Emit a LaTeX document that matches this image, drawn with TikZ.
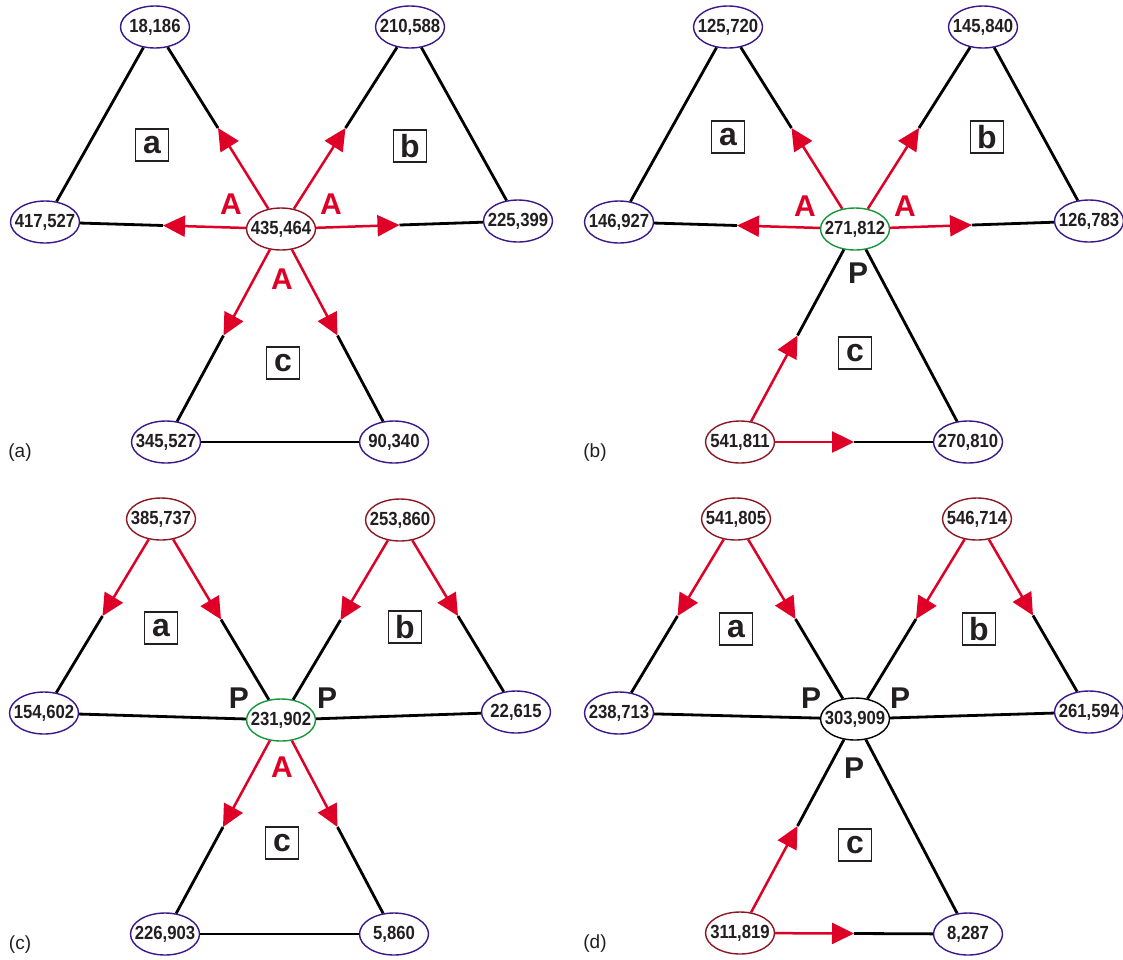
\documentclass[tikz,border=0pt]{standalone}
\usepackage{fontspec}
\setmainfont{Liberation Sans}
\newfontfamily\numfont[FakeStretch=0.88]{Liberation Sans}
\usetikzlibrary{shapes.geometric,arrows.meta,calc}
\definecolor{ndpurple}{RGB}{58,24,140}
\definecolor{srcred}{RGB}{140,24,36}
\definecolor{hubgreen}{RGB}{20,150,60}
\definecolor{arrred}{RGB}{222,0,38}
\definecolor{txt}{RGB}{35,31,32}
\newcommand\halfarr[2]{\draw[blk] ($(#1)!0.5!(#2)$) -- (#2); \draw[rd] (#1) -- ($(#1)!0.5!(#2)$);}
\tikzset{
  nd/.style={ellipse, draw=ndpurple, line width=1.4pt, fill=white, minimum width=69pt, minimum height=42pt, inner xsep=-8pt, inner ysep=0pt, text=txt, font=\numfont\bfseries\fontsize{19}{19}\selectfont},
  src/.style={nd, draw=srcred},
  hub/.style={nd, draw=hubgreen},
  hubk/.style={nd, draw=black},
  boxlbl/.style={draw=txt, line width=1.8pt, minimum width=33pt, minimum height=32pt, inner sep=0pt, text=txt, font=\bfseries\fontsize{32}{32}\selectfont},
  albl/.style={text=arrred, font=\bfseries\fontsize{30}{30}\selectfont, inner sep=0pt},
  plbl/.style={text=txt, font=\bfseries\fontsize{30}{30}\selectfont, inner sep=0pt},
  panlbl/.style={text=txt, font=\fontsize{19}{19}\selectfont, inner sep=0pt},
  blk/.style={line width=2.8pt, black},
  rd/.style={line width=2.5pt, arrred, -{Triangle[length=22pt,width=21pt]}}
}
\begin{document}
\begin{tikzpicture}[x=1pt,y=-1pt]
\useasboundingbox (0,0) rectangle (1123,959);
\fill[white] (0,0) rectangle (1123,959);
% ---------- panel (a)
\node[src] (aC) at (281,229) {435,464};
\node[nd] (aT1) at (155,27) {18,186};
\node[nd] (aT2) at (410,27) {210,588};
\node[nd] (aL) at (45,222) {417,527};
\node[nd] (aR) at (518,221) {225,399};
\node[nd] (aB1) at (166,442) {345,527};
\node[nd] (aB2) at (394,442) {90,340};
\draw[blk] (aT1) -- (aL);
\draw[blk] (aT2) -- (aR);
\draw[blk] (aB1) -- (aB2);
\halfarr{aC}{aT1}
\halfarr{aC}{aT2}
\halfarr{aC}{aL}
\halfarr{aC}{aR}
\halfarr{aC}{aB1}
\halfarr{aC}{aB2}
\node[boxlbl] (aba) at (152,145) {a};
\node[boxlbl] (abb) at (410,146) {b};
\node[boxlbl] (abc) at (283,363) {c};
\node[albl] (aA1) at (231,204) {A};
\node[albl] (aA2) at (331,204) {A};
\node[albl] (aA3) at (282,279) {A};
\node[panlbl] (alab) at (20,453) {(a)};
% ---------- panel (b)
\node[hub] (bC) at (855,229) {271,812};
\node[nd] (bT1) at (728,27) {125,720};
\node[nd] (bT2) at (983,27) {145,840};
\node[nd] (bL) at (619,222) {146,927};
\node[nd] (bR) at (1089,221) {126,783};
\node[src] (bB1) at (740,442) {541,811};
\node[nd] (bB2) at (968,442) {270,810};
\draw[blk] (bT1) -- (bL);
\draw[blk] (bT2) -- (bR);
\draw[blk] (bC) -- (bB2);
\halfarr{bC}{bT1}
\halfarr{bC}{bT2}
\halfarr{bC}{bL}
\halfarr{bC}{bR}
\halfarr{bB1}{bC}
\halfarr{bB1}{bB2}
\node[boxlbl] (bba) at (728,137) {a};
\node[boxlbl] (bbb) at (987,137) {b};
\node[boxlbl] (bbc) at (855,353) {c};
\node[albl] (bA1) at (805,206) {A};
\node[albl] (bA2) at (905,206) {A};
\node[plbl] (bP1) at (858,273) {P};
\node[panlbl] (blab) at (595,453) {(b)};
% ---------- panel (c)
\node[hub] (cC) at (281,720) {231,902};
\node[src] (cT1) at (161,519) {385,737};
\node[src] (cT2) at (400,520) {253,860};
\node[nd] (cL) at (44,713) {154,602};
\node[nd] (cR) at (516,712) {22,615};
\node[nd] (cB1) at (165,934) {226,903};
\node[nd] (cB2) at (394,934) {5,860};
\draw[blk] (cL) -- (cC);
\draw[blk] (cC) -- (cR);
\draw[blk] (cB1) -- (cB2);
\halfarr{cT1}{cL}
\halfarr{cT1}{cC}
\halfarr{cT2}{cC}
\halfarr{cT2}{cR}
\halfarr{cC}{cB1}
\halfarr{cC}{cB2}
\node[boxlbl] (cba) at (161,628) {a};
\node[boxlbl] (cbb) at (405,627) {b};
\node[boxlbl] (cbc) at (282,843) {c};
\node[plbl] (cP1) at (239,698) {P};
\node[plbl] (cP2) at (327,698) {P};
\node[albl] (cA1) at (282,767) {A};
\node[panlbl] (clab) at (20,945) {(c)};
% ---------- panel (d)
\node[hubk] (dC) at (855,719) {303,909};
\node[src] (dT1) at (736,519) {541,805};
\node[src] (dT2) at (977,519) {546,714};
\node[nd] (dL) at (619,713) {238,713};
\node[nd] (dR) at (1089,712) {261,594};
\node[src] (dB1) at (740,933) {311,819};
\node[nd] (dB2) at (968,934) {8,287};
\draw[blk] (dL) -- (dC);
\draw[blk] (dC) -- (dR);
\draw[blk] (dC) -- (dB2);
\halfarr{dT1}{dL}
\halfarr{dT1}{dC}
\halfarr{dT2}{dC}
\halfarr{dT2}{dR}
\halfarr{dB1}{dC}
\halfarr{dB1}{dB2}
\node[boxlbl] (dba) at (736,629) {a};
\node[boxlbl] (dbb) at (979,629) {b};
\node[boxlbl] (dbc) at (855,845) {c};
\node[plbl] (dP1) at (811,698) {P};
\node[plbl] (dP2) at (900,698) {P};
\node[plbl] (dP3) at (854,768) {P};
\node[panlbl] (dlab) at (595,944) {(d)};
\end{tikzpicture}
\end{document}
